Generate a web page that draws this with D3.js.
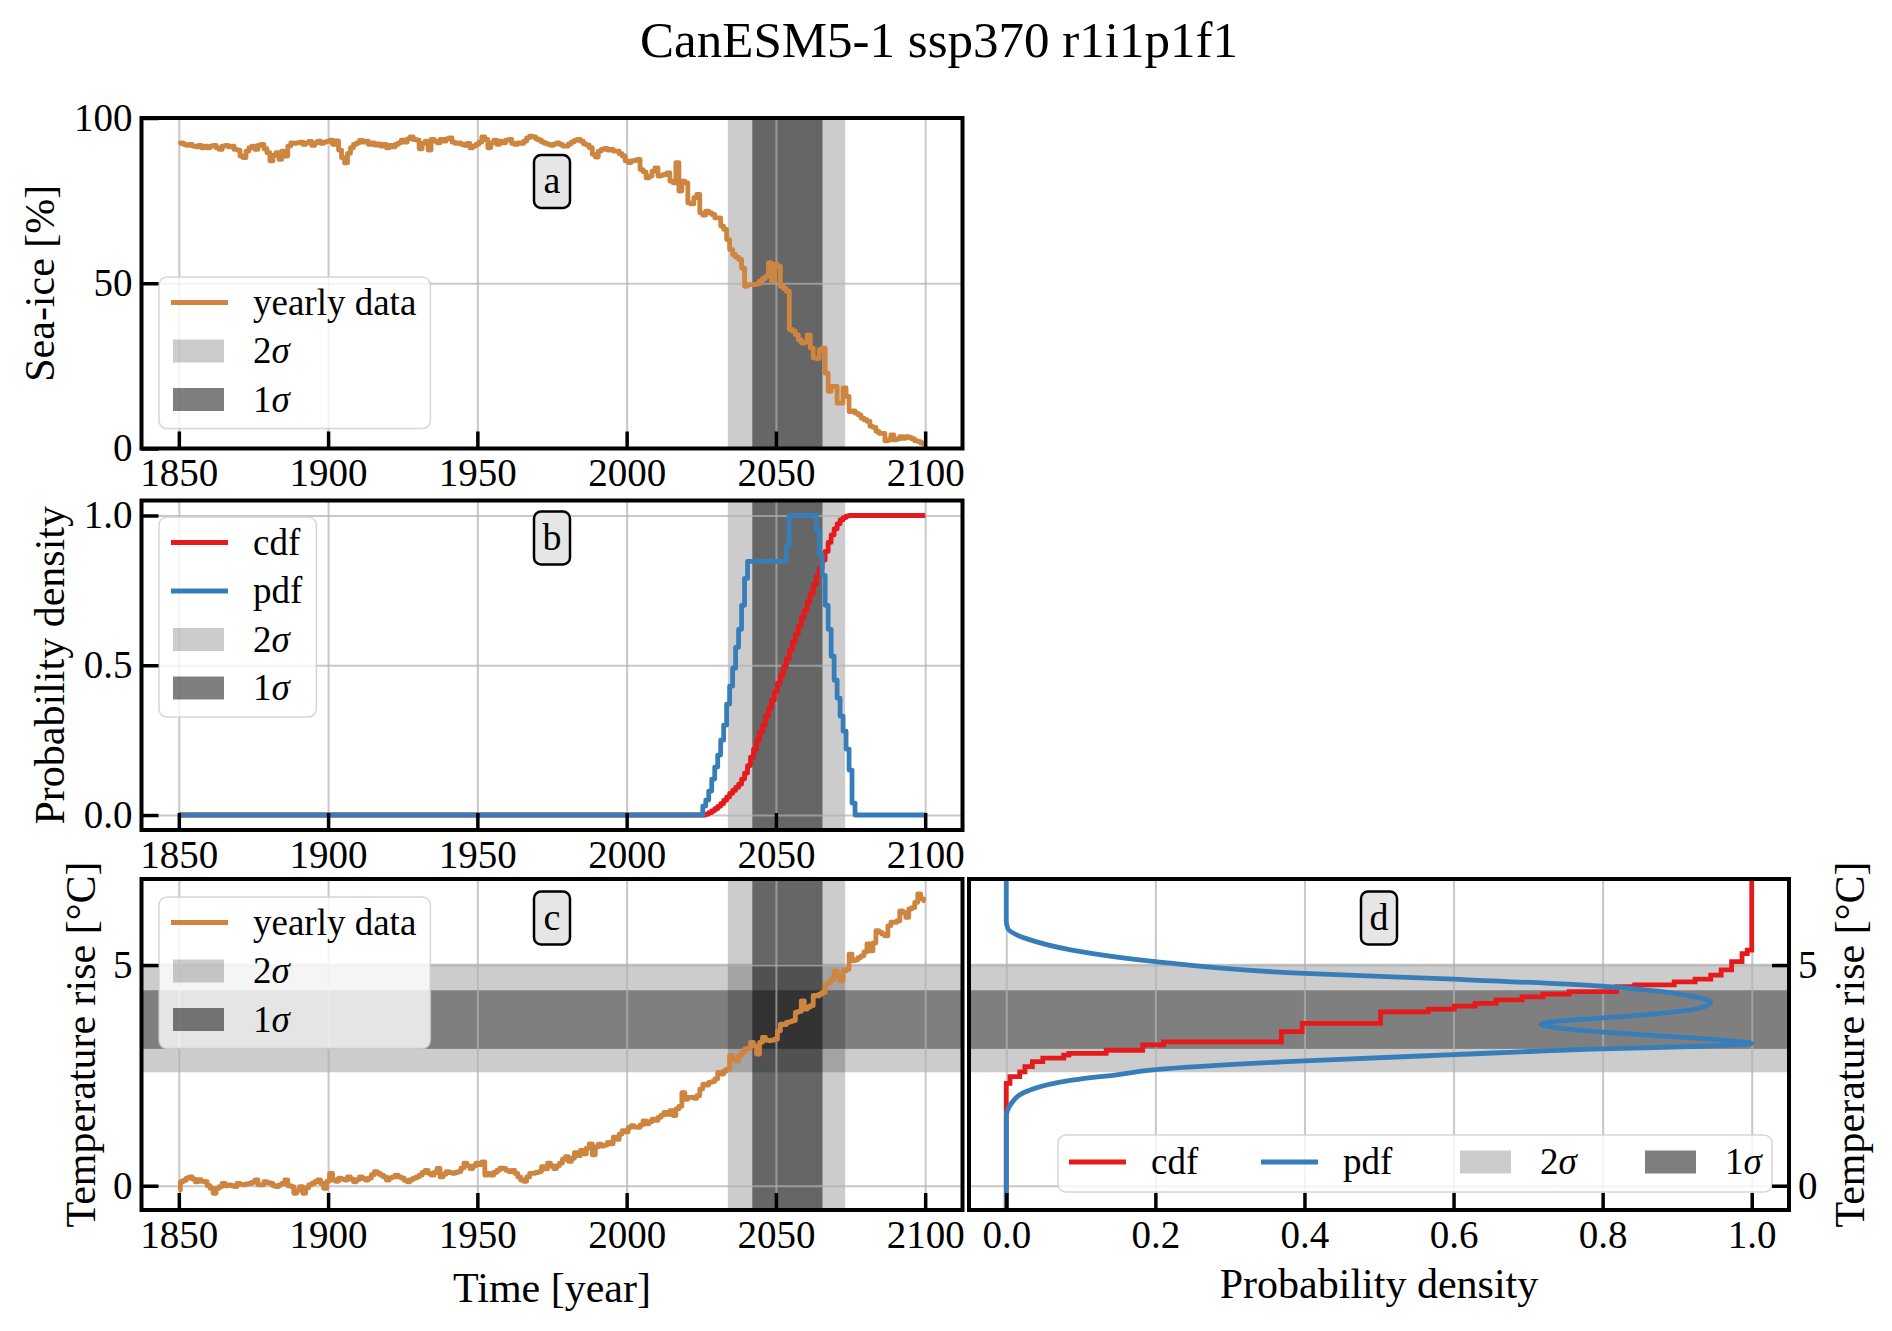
<!DOCTYPE html>
<html>
<head>
<meta charset="utf-8">
<title>CanESM5-1 ssp370 r1i1p1f1</title>
<script src="https://cdn.jsdelivr.net/npm/d3@7"></script>
<style>
  html, body { margin: 0; padding: 0; background: #fff; }
  text { font-family: "Liberation Serif", "DejaVu Serif", serif; fill: #000; }
</style>
</head>
<body>
<div id="chart"></div>
<script>
// ---------------- data ----------------
const firstYear = 1850, lastYear = 2100;
const years = d3.range(firstYear, lastYear + 1);

// panel a: sea-ice extent [%], one value per year 1850..2100
const seaIce = [
  92.3, 92.5, 92.0, 91.7, 92.0, 91.5, 91.3, 91.7, 91.0, 91.5,
  91.0, 91.5, 91.7, 91.0, 90.5, 91.5, 91.7, 91.3, 91.5, 90.5,
  90.3, 88.5, 88.0, 90.0, 91.0, 91.5, 90.5, 91.7, 92.0, 90.7,
  89.5, 87.0, 88.7, 89.5, 87.5, 90.0, 88.5, 91.5, 92.5, 92.3,
  92.5, 92.7, 92.0, 92.5, 92.9, 91.7, 92.5, 93.0, 92.3, 92.7,
  92.9, 93.3, 92.0, 93.1, 90.3, 88.0, 86.4, 89.3, 91.0, 92.0,
  92.5, 93.2, 92.7, 93.0, 92.0, 92.5, 91.8, 92.2, 91.5, 92.0,
  91.0, 91.7, 91.3, 92.0, 92.5, 93.3, 92.7, 93.7, 94.3, 93.5,
  93.3, 90.7, 92.3, 93.0, 90.3, 93.5, 93.0, 92.5, 93.5, 93.0,
  93.7, 94.0, 92.7, 92.3, 92.5, 92.0, 91.7, 92.3, 91.0, 91.5,
  92.0, 92.7, 94.3, 93.5, 91.0, 92.5, 93.3, 92.0, 93.0, 92.5,
  93.3, 93.5, 92.3, 92.0, 92.5, 92.3, 93.0, 94.0, 94.5, 94.3,
  93.7, 93.3, 92.7, 92.3, 92.0, 91.7, 92.1, 92.5, 92.0, 91.5,
  91.5, 92.2, 92.8, 93.2, 93.5, 93.0, 92.2, 91.8, 91.0, 89.0,
  88.2, 90.0, 90.5, 90.8, 90.3, 90.5, 90.0, 90.0, 89.2, 88.5,
  87.0, 86.5, 87.0, 87.2, 87.5, 84.4, 83.7, 81.9, 82.4, 83.9,
  84.9, 82.4, 82.7, 82.9, 83.4, 80.9, 80.4, 86.5, 77.9, 80.9,
  80.4, 74.3, 74.0, 75.9, 76.9, 71.3, 70.6, 71.8, 71.3, 70.8,
  69.8, 69.8, 67.3, 66.3, 63.2, 60.2, 58.7, 57.9, 57.2, 54.6,
  49.1, 49.6, 49.6, 49.6, 49.8, 50.6, 51.4, 52.1, 56.2, 50.6,
  55.7, 55.2, 49.1, 48.4, 47.6, 36.0, 35.5, 34.4, 32.9, 31.9,
  32.2, 34.4, 30.4, 27.4, 27.2, 29.9, 30.4, 22.8, 17.3, 18.8,
  18.8, 13.7, 13.7, 18.3, 15.8, 11.2, 11.4, 10.7, 10.2, 9.2,
  8.7, 8.2, 6.7, 6.4, 5.2, 4.6, 4.6, 2.3, 2.6, 4.1,
  2.6, 2.9, 3.6, 3.1, 3.6, 3.3, 2.9, 2.3, 2.1, 1.6,
  1.3
];

// panel c: temperature rise [°C], one value per year 1850..2100
const tempRise = [
  -0.10, 0.09, 0.12, 0.17, 0.20, 0.15, 0.09, 0.14, 0.10, 0.09,
  0.00, -0.06, -0.17, -0.06, -0.02, 0.05, 0.00, 0.02, 0.00, -0.02,
  0.05, 0.03, 0.02, 0.04, 0.05, 0.08, 0.13, 0.02, 0.02, 0.09,
  0.07, 0.05, 0.00, -0.02, 0.02, 0.05, 0.13, 0.00, -0.02, -0.17,
  -0.10, -0.02, -0.17, -0.05, 0.02, 0.05, 0.09, 0.13, 0.05, -0.06,
  0.10, 0.28, 0.13, 0.10, 0.17, 0.15, 0.13, 0.20, 0.15, 0.09,
  0.14, 0.20, 0.16, 0.13, 0.17, 0.25, 0.32, 0.28, 0.24, 0.20,
  0.13, 0.18, 0.20, 0.24, 0.20, 0.17, 0.12, 0.09, 0.14, 0.17,
  0.20, 0.24, 0.30, 0.35, 0.28, 0.24, 0.30, 0.39, 0.20, 0.26,
  0.32, 0.30, 0.28, 0.30, 0.32, 0.40, 0.51, 0.45, 0.39, 0.45,
  0.51, 0.48, 0.54, 0.24, 0.28, 0.24, 0.30, 0.35, 0.40, 0.39,
  0.35, 0.32, 0.35, 0.28, 0.20, 0.13, 0.10, 0.20, 0.28, 0.28,
  0.30, 0.32, 0.43, 0.38, 0.51, 0.45, 0.39, 0.45, 0.51, 0.60,
  0.66, 0.55, 0.62, 0.75, 0.68, 0.80, 0.72, 0.85, 0.95, 0.70,
  0.88, 0.94, 0.90, 0.92, 0.98, 0.95, 1.10, 1.05, 1.17, 1.25,
  1.22, 1.32, 1.36, 1.33, 1.32, 1.38, 1.47, 1.40, 1.45, 1.51,
  1.48, 1.55, 1.60, 1.66, 1.62, 1.70, 1.59, 1.74, 1.80, 2.11,
  1.96, 2.00, 2.00, 1.98, 2.04, 2.19, 2.30, 2.28, 2.34, 2.36,
  2.42, 2.57, 2.53, 2.60, 2.64, 2.95, 2.85, 2.83, 2.95, 3.02,
  3.10, 3.12, 3.25, 3.17, 2.98, 3.25, 3.36, 3.30, 3.29, 3.30,
  3.32, 3.51, 3.66, 3.65, 3.70, 3.72, 3.74, 3.93, 3.95, 4.19,
  4.00, 4.05, 4.08, 4.31, 4.30, 4.34, 4.38, 4.57, 4.60, 4.68,
  4.87, 4.76, 4.64, 4.87, 4.90, 5.25, 5.10, 5.12, 5.17, 5.21,
  5.30, 5.48, 5.32, 5.50, 5.78, 5.74, 5.70, 5.66, 5.89, 5.97,
  5.97, 6.00, 6.23, 6.19, 6.08, 6.27, 6.30, 6.42, 6.61, 6.50,
  6.46
];

// panel b: pdf is 0 outside 2026..2076, cdf is 0 before 2027 and 1 after 2074
const pdfStartYear = 2026;
const pdfYearly = [
  0.03, 0.05, 0.08, 0.12, 0.16, 0.20, 0.25, 0.30, 0.37, 0.43, 0.49, 0.56, 0.62, 0.70, 0.79,
  0.847, 0.847, 0.847, 0.847, 0.847, 0.847, 0.847, 0.847, 0.847, 0.847, 0.847, 0.847, 0.847,
  0.90,
  1, 1, 1, 1, 1, 1, 1, 1, 1,
  0.95, 0.87, 0.80, 0.70, 0.62, 0.53, 0.45, 0.39, 0.33, 0.28, 0.22, 0.15, 0.04
];
const cdfStartYear = 2027;
const cdfYearly = [
  0.003, 0.008, 0.014, 0.021, 0.029, 0.038, 0.049, 0.060, 0.072, 0.082, 0.092, 0.103, 0.120, 0.140,
  0.165, 0.193, 0.220, 0.249, 0.276, 0.300, 0.329, 0.356, 0.384, 0.412,
  0.440, 0.468, 0.495, 0.522, 0.550, 0.577, 0.605, 0.633, 0.660, 0.685,
  0.713, 0.740, 0.768, 0.796, 0.823, 0.851, 0.880, 0.910, 0.935, 0.955,
  0.972, 0.985, 0.993, 0.998
];

// uncertainty ranges
const sigma2Years = [2033.9, 2073.2];
const sigma1Years = [2042.1, 2065.6];
const sigma2Temp = [2.57, 5.03];
const sigma1Temp = [3.10, 4.43];

// panel d: density (normalised) versus temperature
const densTemp = [-0.55, 1.56, 1.87, 2.17, 2.39, 2.52, 2.63, 2.83, 2.97, 3.10, 3.16, 3.22, 3.32, 3.45, 3.59, 3.66,
  3.72, 3.83, 4.00, 4.15, 4.30, 4.43, 4.52, 4.68, 4.81, 5.08, 5.34, 5.57, 5.83, 6.00, 6.95];
const densPdf = [0, 0, 0.007, 0.032, 0.088, 0.15, 0.2, 0.4, 0.6, 0.8, 0.93, 1.0, 0.945, 0.826, 0.734, 0.717,
  0.734, 0.826, 0.924, 0.945, 0.917, 0.86, 0.8, 0.6, 0.4, 0.2, 0.088, 0.032, 0.002, 0, 0];
// panel d: empirical cdf steps versus temperature
const cdfTemp = [-0.55, 2.32, 2.47, 2.58, 2.70, 2.81, 2.89, 2.96, 3.00, 3.07, 3.19, 3.26, 3.49, 3.68, 3.94, 4.00,
  4.07, 4.13, 4.21, 4.28, 4.34, 4.40, 4.51, 4.55, 4.62, 4.68, 4.77, 4.89, 5.08, 5.26, 5.34, 6.95];
const cdfProb = [0, 0.005, 0.018, 0.025, 0.035, 0.049, 0.077, 0.084, 0.134, 0.183, 0.211, 0.369, 0.397, 0.502, 0.566, 0.601,
  0.629, 0.657, 0.692, 0.720, 0.755, 0.819, 0.843, 0.896, 0.924, 0.945, 0.959, 0.973, 0.987, 0.994, 1.0, 1.0];

// ticks and texts
const yearTicks = [1850, 1900, 1950, 2000, 2050, 2100];
const iceTicks = [0, 50, 100];
const probTicks = [0, 0.5, 1];
const tempTicks = [0, 5];
const densTicks = [0, 0.2, 0.4, 0.6, 0.8, 1];
const title = "CanESM5-1 ssp370 r1i1p1f1";

// ---------------- layout ----------------
const width = 1892, height = 1331;
const FONT = '"Liberation Serif", "DejaVu Serif", serif';
const colors = { yearly: "#cd853f", cdf: "#e41a1c", pdf: "#377eb8" };
const op2 = 0.2, op1 = 0.5;
const lw = 4.8;

const svg = d3.select("#chart").append("svg")
  .attr("width", width).attr("height", height)
  .attr("viewBox", `0 0 ${width} ${height}`)
  .attr("font-family", FONT);

const xYear = d3.scaleLinear().domain([1837.5, 2112.5]).range([141.5, 962.5]);
const yIce = d3.scaleLinear().domain([0, 100]).range([448.5, 118]);
const yProb = d3.scaleLinear().domain([-0.05, 1.05]).range([830, 500.5]);
const yTemp = d3.scaleLinear().domain([-0.55, 6.95]).range([1210, 879]);
const xDens = d3.scaleLinear().domain([-0.05, 1.05]).range([969, 1789]);

function panel(id, x, y) {
  const [x0, x1] = x.range(), [yb, yt] = y.range();
  const g = svg.append("g").attr("class", "panel-" + id);
  g.append("clipPath").attr("id", "clip-" + id)
    .append("rect").attr("x", x0).attr("y", yt).attr("width", x1 - x0).attr("height", yb - yt);
  const layer = () => g.append("g").attr("clip-path", `url(#clip-${id})`);
  const bands = layer(), grid = g.append("g"), marks = layer(), top = g.append("g");
  return { id, x, y, x0, x1, yb, yt, bands, grid, marks, top };
}

function vBand(p, r, op) {
  p.bands.append("rect")
    .attr("x", p.x(r[0])).attr("width", p.x(r[1]) - p.x(r[0]))
    .attr("y", p.yt).attr("height", p.yb - p.yt)
    .attr("fill", "#000").attr("fill-opacity", op);
}
function hBand(p, r, op) {
  p.bands.append("rect")
    .attr("x", p.x0).attr("width", p.x1 - p.x0)
    .attr("y", p.y(r[1])).attr("height", p.y(r[0]) - p.y(r[1]))
    .attr("fill", "#000").attr("fill-opacity", op);
}
function yearBands(p) {
  vBand(p, sigma2Years, op2);
  vBand(p, sigma1Years, op1);
}
function tempBands(p) {
  hBand(p, [sigma2Temp[0], sigma1Temp[0]], op2);
  hBand(p, [sigma1Temp[1], sigma2Temp[1]], op2);
  hBand(p, sigma1Temp, op1);
}

function grid(p, xt, yt) {
  p.grid.append("g").attr("transform", `translate(0,${p.yb})`)
    .call(d3.axisBottom(p.x).tickValues(xt).tickSize(-(p.yb - p.yt)).tickFormat(""))
    .call(g => g.select(".domain").remove())
    .selectAll("line").attr("stroke", "#b0b0b0").attr("stroke-opacity", 0.7).attr("stroke-width", 2);
  p.grid.append("g").attr("transform", `translate(${p.x0},0)`)
    .call(d3.axisLeft(p.y).tickValues(yt).tickSize(-(p.x1 - p.x0)).tickFormat(""))
    .call(g => g.select(".domain").remove())
    .selectAll("line").attr("stroke", "#b0b0b0").attr("stroke-opacity", 0.7).attr("stroke-width", 2);
}

function axes(p, xt, xf, yt, yf, rightSide) {
  const bottom = p.top.append("g").attr("transform", `translate(0,${p.yb})`)
    .call(d3.axisBottom(p.x).tickValues(xt).tickFormat(xf).tickSizeInner(-17).tickSizeOuter(0).tickPadding(10));
  const vAxis = rightSide ? d3.axisRight(p.y) : d3.axisLeft(p.y);
  const side = p.top.append("g").attr("transform", `translate(${rightSide ? p.x1 : p.x0},0)`)
    .call(vAxis.tickValues(yt).tickFormat(yf).tickSizeInner(-17).tickSizeOuter(0).tickPadding(9));
  [bottom, side].forEach(a => {
    a.select(".domain").remove();
    a.attr("font-size", 39).attr("font-family", FONT);
    a.selectAll("line").attr("stroke", "#000").attr("stroke-width", 3.5);
    a.selectAll("text").attr("fill", "#000");
  });
  p.top.append("rect")
    .attr("x", p.x0).attr("y", p.yt).attr("width", p.x1 - p.x0).attr("height", p.yb - p.yt)
    .attr("fill", "none").attr("stroke", "#000").attr("stroke-width", 4);
}

// panel letter in a rounded box
function tag(p, letter, cy) {
  const cx = (p.x0 + p.x1) / 2;
  p.top.append("rect")
    .attr("x", cx - 18).attr("y", cy - 26.5).attr("width", 36).attr("height", 53).attr("rx", 7)
    .attr("fill", "#e6e6e6").attr("stroke", "#000").attr("stroke-width", 2.5);
  p.top.append("text").attr("x", cx).attr("y", cy + 11.5)
    .attr("text-anchor", "middle").attr("font-size", 38).text(letter);
}

function setLabel(t, label) {
  if (label.endsWith("σ")) {
    t.append("tspan").text(label.slice(0, -1));
    t.append("tspan").attr("font-style", "italic").text("σ");
  } else {
    t.text(label);
  }
}

// legend: vertical list unless box.slots is given (one row)
function legend(p, box, items) {
  const g = p.top.append("g").attr("transform", `translate(${box.x},${box.y})`);
  const frame = g.append("rect").attr("rx", 8)
    .attr("fill", "#fff").attr("fill-opacity", 0.8)
    .attr("stroke", "#ccc").attr("stroke-opacity", 0.8).attr("stroke-width", 1.5);
  let right = 0;
  items.forEach((it, i) => {
    const hx = box.slots ? box.slots[i] : 12;
    const cy = box.slots ? 27 : 25.5 + 48.5 * i;
    if (it.type === "line") {
      g.append("line").attr("x1", hx).attr("x2", hx + 57).attr("y1", cy).attr("y2", cy)
        .attr("stroke", it.color).attr("stroke-width", lw);
    } else {
      g.append("rect").attr("x", hx + 2).attr("y", cy - 11.5).attr("width", 51).attr("height", 23)
        .attr("fill", "#000").attr("fill-opacity", it.opacity);
    }
    const t = g.append("text").attr("x", hx + 82).attr("y", cy + 12).attr("font-size", 37);
    setLabel(t, it.label);
    right = Math.max(right, hx + 82 + t.node().getComputedTextLength());
  });
  frame.attr("width", box.width || right + 14)
    .attr("height", box.slots ? 57 : 25.5 + 48.5 * (items.length - 1) + 29);
}

const bandItems = [
  { type: "patch", label: "2σ", opacity: op2 },
  { type: "patch", label: "1σ", opacity: op1 }
];
const yearlyItems = [{ type: "line", label: "yearly data", color: colors.yearly }, ...bandItems];
const pdfItems = [
  { type: "line", label: "cdf", color: colors.cdf },
  { type: "line", label: "pdf", color: colors.pdf },
  ...bandItems
];

function yearlyPath(p, values, color) {
  p.marks.append("path").datum(values)
    .attr("d", d3.line().x((d, i) => p.x(years[i])).y(d => p.y(d)).curve(d3.curveStep))
    .attr("fill", "none").attr("stroke", color).attr("stroke-width", lw).attr("stroke-linejoin", "round");
}

const fmtInt = d3.format("d"), fmt1 = d3.format(".1f");

// ---------------- panel a ----------------
const pa = panel("a", xYear, yIce);
yearBands(pa);
grid(pa, yearTicks, iceTicks);
yearlyPath(pa, seaIce, colors.yearly);
legend(pa, { x: 159, y: 277 }, yearlyItems);
tag(pa, "a", 181.5);
axes(pa, yearTicks, fmtInt, iceTicks, fmtInt, false);

// ---------------- panel b ----------------
const pb = panel("b", xYear, yProb);
yearBands(pb);
grid(pb, yearTicks, probTicks);
const cdfSeries = years.map(yr => {
  const i = yr - cdfStartYear;
  return i < 0 ? 0 : (i >= cdfYearly.length ? 1 : cdfYearly[i]);
});
const pdfSeries = years.map(yr => {
  const i = yr - pdfStartYear;
  return i >= 0 && i < pdfYearly.length ? pdfYearly[i] : 0;
});
yearlyPath(pb, cdfSeries, colors.cdf);
yearlyPath(pb, pdfSeries, colors.pdf);
legend(pb, { x: 159, y: 517 }, pdfItems);
tag(pb, "b", 538);
axes(pb, yearTicks, fmtInt, probTicks, fmt1, false);

// ---------------- panel c ----------------
const pc = panel("c", xYear, yTemp);
tempBands(pc);
yearBands(pc);
grid(pc, yearTicks, tempTicks);
yearlyPath(pc, tempRise, colors.yearly);
legend(pc, { x: 159, y: 897 }, yearlyItems);
tag(pc, "c", 918);
axes(pc, yearTicks, fmtInt, tempTicks, fmtInt, false);

// ---------------- panel d ----------------
const pd = panel("d", xDens, yTemp);
tempBands(pd);
grid(pd, densTicks, tempTicks);
const cdfPts = cdfTemp.map((t, i) => [cdfProb[i], t]);
pd.marks.append("path").datum(cdfPts)
  .attr("d", d3.line().x(d => pd.x(d[0])).y(d => pd.y(d[1])).curve(d3.curveStepBefore))
  .attr("fill", "none").attr("stroke", colors.cdf).attr("stroke-width", lw);
const densPts = densTemp.map((t, i) => [densPdf[i], t]).sort((a, b) => b[1] - a[1]);
pd.marks.append("path").datum(densPts)
  .attr("d", d3.line().x(d => pd.x(d[0])).y(d => pd.y(d[1])).curve(d3.curveMonotoneY))
  .attr("fill", "none").attr("stroke", colors.pdf).attr("stroke-width", lw);
legend(pd, { x: 1058, y: 1135, width: 714, slots: [11, 203, 400, 585] }, pdfItems);
tag(pd, "d", 918);
axes(pd, densTicks, fmt1, tempTicks, fmtInt, true);

// ---------------- titles and axis labels ----------------
svg.append("text").attr("x", 939).attr("y", 57).attr("text-anchor", "middle")
  .attr("font-size", 51).text(title);

const axisLabel = (x, y, text, rotate) => svg.append("text")
  .attr("transform", `translate(${x},${y})` + (rotate ? " rotate(-90)" : ""))
  .attr("text-anchor", "middle").attr("font-size", 42).text(text);

axisLabel(54, 283.25, "Sea-ice [%]", true);
axisLabel(64, 665.25, "Probability density", true);
axisLabel(95, 1044.5, "Temperature rise [°C]", true);
axisLabel(1864, 1044.5, "Temperature rise [°C]", true);
axisLabel(552, 1302, "Time [year]", false);
axisLabel(1379, 1298, "Probability density", false);
</script>
</body>
</html>
